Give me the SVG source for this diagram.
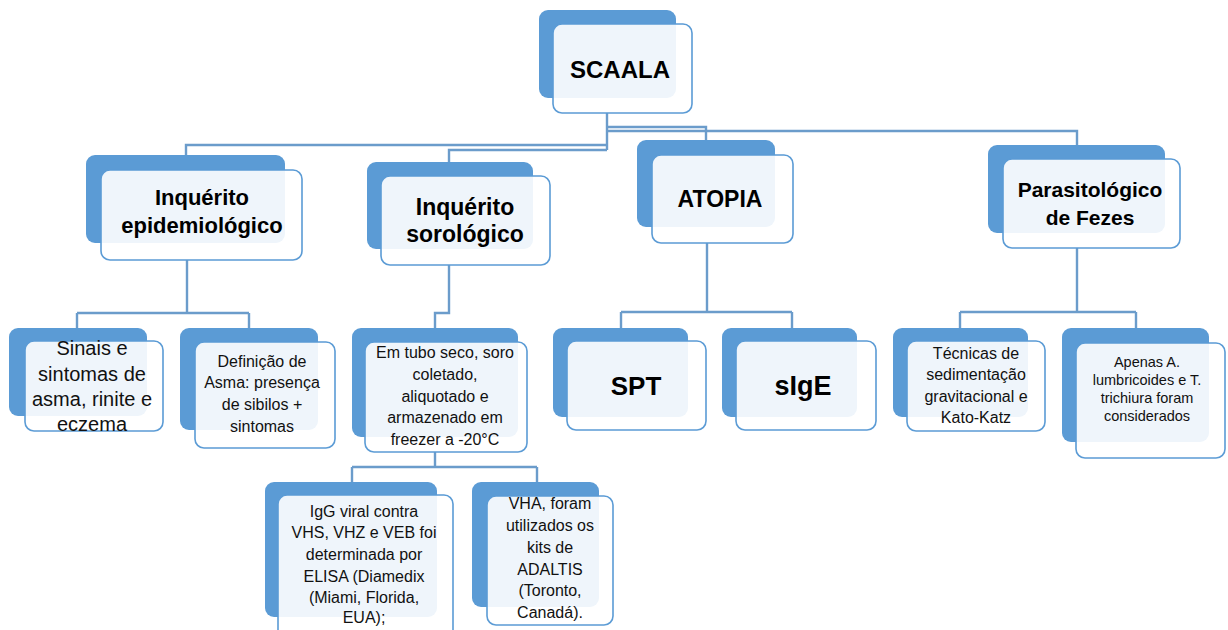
<svg xmlns="http://www.w3.org/2000/svg" width="1228" height="630" viewBox="0 0 1228 630">
<defs>
<style>
.back{fill:#5B9BD5}
.front{fill:#ffffff;fill-opacity:0.9;stroke:#5B9BD5;stroke-width:1.6}
.conn{fill:none;stroke:#6B9CCB;stroke-width:2.4}
.t{font-family:"Liberation Sans",Arial,sans-serif;fill:#111;text-anchor:middle}
.b{font-weight:bold;fill:#000}
</style>
</defs>
<rect width="1228" height="630" fill="#ffffff"/>
<g id="connectors">
<path class="conn" d="M607,113 V150"/>
<path class="conn" d="M607,127 H706 V140"/>
<path class="conn" d="M607,131 H1077 V145"/>
<path class="conn" d="M607,145 H186 V155"/>
<path class="conn" d="M607,150 H449 V162"/>
<path class="conn" d="M187,260 V313 M77,313 H249 M77,313 V328 M249,313 V328"/>
<path class="conn" d="M449,265 V313 H435 V328"/>
<path class="conn" d="M435,452 V467 M352,467 H537 M352,467 V482 M537,467 V482"/>
<path class="conn" d="M707,243 V312 M621,312 H792 M621,312 V328 M792,312 V328"/>
<path class="conn" d="M1077,248 V312 M960,312 H1136 M960,312 V328 M1136,312 V328"/>
</g>
<g id="scaala">
<rect class="back" x="539" y="10" width="137" height="88" rx="9"/>
<rect class="front" x="553" y="24" width="139" height="89" rx="9"/>
<text class="t b" x="620" y="78" font-size="24">SCAALA</text>
</g>
<g id="inq-epid">
<rect class="back" x="86" y="155" width="199" height="88" rx="9"/>
<rect class="front" x="101" y="170" width="201" height="90" rx="9"/>
<text class="t b" font-size="22"><tspan x="202" y="205">Inquérito</tspan><tspan x="202" y="233">epidemiológico</tspan></text>
</g>
<g id="inq-sorol">
<rect class="back" x="367" y="162" width="166" height="87" rx="9"/>
<rect class="front" x="381" y="176" width="169" height="89" rx="9"/>
<text class="t b" font-size="23"><tspan x="465" y="215">Inquérito</tspan><tspan x="465" y="242">sorológico</tspan></text>
</g>
<g id="atopia">
<rect class="back" x="637" y="140" width="138" height="87" rx="9"/>
<rect class="front" x="652" y="155" width="141" height="88" rx="9"/>
<text class="t b" x="720" y="207" font-size="23">ATOPIA</text>
</g>
<g id="parasit">
<rect class="back" x="988" y="145" width="177" height="88" rx="9"/>
<rect class="front" x="1003" y="159" width="177" height="89" rx="9"/>
<text class="t b" font-size="21"><tspan x="1090" y="197">Parasitológico</tspan><tspan x="1090" y="225">de Fezes</tspan></text>
</g>
<g id="sinais">
<rect class="back" x="9" y="328" width="138" height="88" rx="9"/>
<rect class="front" x="25" y="341" width="138" height="90" rx="9"/>
<text class="t" font-size="20"><tspan x="92" y="355">Sinais e</tspan><tspan x="92" y="381">sintomas de</tspan><tspan x="92" y="406">asma, rinite e</tspan><tspan x="92" y="431">eczema</tspan></text>
</g>
<g id="definicao">
<rect class="back" x="180" y="328" width="138" height="102" rx="9"/>
<rect class="front" x="195" y="342" width="140" height="106" rx="9"/>
<text class="t" font-size="16"><tspan x="262" y="367">Definição  de</tspan><tspan x="262" y="388">Asma: presença</tspan><tspan x="262" y="410">de sibilos  +</tspan><tspan x="262" y="432">sintomas</tspan></text>
</g>
<g id="em-tubo">
<rect class="back" x="352" y="328" width="166" height="109" rx="9"/>
<rect class="front" x="365" y="342" width="162" height="110" rx="9"/>
<text class="t" font-size="16"><tspan x="445" y="358">Em tubo  seco, soro</tspan><tspan x="445" y="380">coletado,</tspan><tspan x="445" y="402">aliquotado  e</tspan><tspan x="445" y="423">armazenado em</tspan><tspan x="445" y="445">freezer a -20°C</tspan></text>
</g>
<g id="igg">
<rect class="back" x="265" y="482" width="172" height="135" rx="9"/>
<rect class="front" x="278" y="495" width="175" height="150" rx="9"/>
<text class="t" font-size="16"><tspan x="364" y="517">IgG viral  contra</tspan><tspan x="364" y="538">VHS, VHZ e VEB foi</tspan><tspan x="364" y="560">determinada  por</tspan><tspan x="364" y="582">ELISA  (Diamedix</tspan><tspan x="364" y="603">(Miami, Florida,</tspan><tspan x="364" y="623">EUA);</tspan></text>
</g>
<g id="vha">
<rect class="back" x="472" y="482" width="127" height="125" rx="9"/>
<rect class="front" x="487" y="496" width="126" height="129" rx="9"/>
<text class="t" font-size="16"><tspan x="550" y="509">VHA, foram</tspan><tspan x="550" y="531">utilizados  os</tspan><tspan x="550" y="553">kits  de</tspan><tspan x="550" y="575">ADALTIS</tspan><tspan x="550" y="596">(Toronto,</tspan><tspan x="550" y="618">Canadá).</tspan></text>
</g>
<g id="spt">
<rect class="back" x="553" y="328" width="135" height="89" rx="9"/>
<rect class="front" x="567" y="341" width="139" height="89" rx="9"/>
<text class="t b" x="636" y="395" font-size="26">SPT</text>
</g>
<g id="sige">
<rect class="back" x="722" y="328" width="135" height="89" rx="9"/>
<rect class="front" x="736" y="341" width="140" height="89" rx="9"/>
<text class="t b" x="803" y="395" font-size="27">sIgE</text>
</g>
<g id="tecnicas">
<rect class="back" x="893" y="328" width="135" height="89" rx="9"/>
<rect class="front" x="907" y="341" width="138" height="90" rx="9"/>
<text class="t" font-size="16"><tspan x="976" y="359">Técnicas  de</tspan><tspan x="976" y="380">sedimentação</tspan><tspan x="976" y="402">gravitacional   e</tspan><tspan x="976" y="423">Kato-Katz</tspan></text>
</g>
<g id="apenas">
<rect class="back" x="1062" y="328" width="147" height="114" rx="9"/>
<rect class="front" x="1076" y="343" width="149" height="115" rx="9"/>
<text class="t" font-size="14.5"><tspan x="1147" y="367">Apenas A.</tspan><tspan x="1147" y="385">lumbricoides e T.</tspan><tspan x="1147" y="403">trichiura foram</tspan><tspan x="1147" y="421">considerados</tspan></text>
</g>
</svg>
